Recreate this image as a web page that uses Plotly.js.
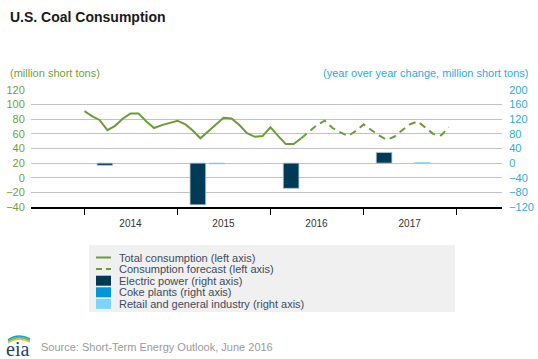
<!DOCTYPE html>
<html>
<head>
<meta charset="utf-8">
<script src="https://cdn.plot.ly/plotly-3.0.1.min.js"></script>
<style>html,body{margin:0;padding:0;background:#fff;}#chart{width:538px;height:359px;}</style>
</head>
<body>
<div id="chart"></div>
<script>
// ---- data ----
var histMonths = ['2014-01-01','2014-02-01','2014-03-01','2014-04-01','2014-05-01','2014-06-01','2014-07-01','2014-08-01','2014-09-01','2014-10-01','2014-11-01','2014-12-01',
                  '2015-01-01','2015-02-01','2015-03-01','2015-04-01','2015-05-01','2015-06-01','2015-07-01','2015-08-01','2015-09-01','2015-10-01','2015-11-01','2015-12-01',
                  '2016-01-01','2016-02-01','2016-03-01','2016-04-01','2016-05-01'];
var histValues = [91, 84, 79, 65, 71, 81, 88, 88, 77, 68, 72, 75,
                  78, 73, 65, 54, 63, 73, 82, 81, 72, 61, 56, 57,
                  69, 57, 46, 46, 54];
var fcstMonths = ['2016-05-01','2016-06-01','2016-07-01','2016-08-01','2016-09-01','2016-10-01','2016-11-01','2016-12-01',
                  '2017-01-01','2017-02-01','2017-03-01','2017-04-01','2017-05-01','2017-06-01','2017-07-01','2017-08-01','2017-09-01','2017-10-01','2017-11-01','2017-12-01'];
var fcstValues = [54, 63, 72, 78, 68, 62, 57, 64,
                  73, 65, 58, 52, 56, 65, 73, 77, 68, 60, 58, 69];
var barYears = ['2014','2015','2016','2017'];
var electricPower = [-6, -114, -69, 29];
var cokePlants = [0, -2, 0, 0];
var retailIndustry = [0, 0, 0, 1];
var yearTicks = ['2014-01-01','2015-01-01','2016-01-01','2017-01-01','2018-01-01'];
var yearLabels = ['2014','2015','2016','2017',''];
var legendNames = ['Total consumption (left axis)','Consumption forecast (left axis)','Electric power (right axis)','Coke plants (right axis)','Retail and general industry (right axis)'];

// ---- style ----
var GREEN = '#6a9d35', NAVY = '#003a56', COKE = '#0096d8', RETAIL = '#7dd3fb';
var LEFTC = '#6f9f3c', RIGHTC = '#2eaae1';
var FONT = 'Liberation Sans, Arial, sans-serif';
var barX = barYears.map(function(y){ return y + '-06-05'; });
function outline(vals, col){ return {color:col, width: vals.map(function(v){ return v === 0 ? 0 : 0.8; })}; }

var traces = [
  {type:'bar', x:barX, y:electricPower, yaxis:'y2', name:legendNames[2], marker:{color:NAVY, line:outline(electricPower,'#b4c6d2')}, showlegend:false},
  {type:'bar', x:barX, y:cokePlants, yaxis:'y2', name:legendNames[3], marker:{color:COKE, line:outline(cokePlants,'#9fd3ee')}, showlegend:false},
  {type:'bar', x:barX, y:retailIndustry, yaxis:'y2', name:legendNames[4], marker:{color:RETAIL, line:outline(retailIndustry,RETAIL)}, showlegend:false},
  {type:'scatter', mode:'lines', x:histMonths, y:histValues, name:legendNames[0], line:{color:GREEN, width:2}, showlegend:false},
  {type:'scatter', mode:'lines', x:fcstMonths, y:fcstValues, name:legendNames[1], line:{color:GREEN, width:2, dash:'7px,5px'}, showlegend:false}
];

// plot area in px
var L = 31, R = 502, T = 90, B = 207;
function px(x){ return (x - L) / (R - L); }
function py(y){ return (B - y) / (B - T); }

var shapes = [];
var annotations = [];

// legend box
shapes.push({type:'rect', xref:'paper', yref:'paper', x0:px(89), x1:px(455), y0:py(245), y1:py(312), fillcolor:'#f0f0f0', line:{width:0}, layer:'below'});
var swatchStyles = [
  {kind:'line', color:GREEN, dash:'solid'},
  {kind:'line', color:GREEN, dash:'6px,4px'},
  {kind:'box', color:NAVY},
  {kind:'box', color:COKE},
  {kind:'box', color:RETAIL}
];
legendNames.forEach(function(name, i){
  var yc = 257.5 + i * 11.6;
  var s = swatchStyles[i];
  if (s.kind === 'line') {
    shapes.push({type:'line', xref:'paper', yref:'paper', x0:px(96), x1:px(111), y0:py(yc), y1:py(yc), line:{color:s.color, width:2, dash:s.dash}});
  } else {
    shapes.push({type:'rect', xref:'paper', yref:'paper', x0:px(96), x1:px(111), y0:py(yc - 5), y1:py(yc + 5), fillcolor:s.color, line:{width:0}});
  }
  annotations.push({xref:'paper', yref:'paper', x:px(117), y:py(yc), xanchor:'left', yanchor:'middle', showarrow:false, text:name, font:{family:FONT, size:11, color:'#3d4b5c'}});
});

// axis unit labels
annotations.push({xref:'paper', yref:'paper', x:px(8), y:py(73), xanchor:'left', yanchor:'middle', showarrow:false, text:'(million short tons)', font:{family:FONT, size:11, color:LEFTC}});
annotations.push({xref:'paper', yref:'paper', x:px(530), y:py(73), xanchor:'right', yanchor:'middle', showarrow:false, text:'(year over year change, million short tons)', font:{family:FONT, size:11, color:RIGHTC}});
// source
annotations.push({xref:'paper', yref:'paper', x:px(39), y:py(347), xanchor:'left', yanchor:'middle', showarrow:false, text:'Source: Short-Term Energy Outlook, June 2016', font:{family:FONT, size:11, color:'#9a9a9a'}});
// eia logo
annotations.push({xref:'paper', yref:'paper', x:px(5), y:py(349), xanchor:'left', yanchor:'middle', showarrow:false, borderpad:0, text:'eia', font:{family:'Liberation Serif, DejaVu Serif, serif', size:20, color:'#1d3f6e'}});
var arcColors = ['#f2c12e','#7ab648','#1e9bd7'];
arcColors.forEach(function(c, i){
  var y0 = 343 - i * 1.6;
  shapes.push({type:'path', xref:'paper', yref:'paper',
    path:'M ' + px(8) + ' ' + py(y0) + ' Q ' + px(18) + ' ' + py(y0 - 7) + ' ' + px(30) + ' ' + py(y0 - 1),
    line:{color:c, width:1.5}});
});

var layout = {
  width:538, height:359,
  margin:{l:L, r:538 - R, t:T, b:359 - B},
  paper_bgcolor:'#fff', plot_bgcolor:'#fff',
  font:{family:FONT, size:11, color:'#333'},
  title:{text:'<b>U.S. Coal Consumption</b>', x:10/538, xanchor:'left', xref:'container', y:1 - 17/359, yanchor:'middle', yref:'container', font:{family:FONT, size:14, color:'#1a1a1a'}},
  showlegend:false,
  barmode:'group', bargap:0.384, bargroupgap:0.18,
  xaxis:{type:'date', range:['2013-06-05','2018-06-28'], tickmode:'array', tickvals:yearTicks, ticktext:yearLabels, ticklabelshift:46,
         ticks:'outside', ticklen:6, tickcolor:'#000', tickwidth:1, showgrid:false, zeroline:false,
         showline:true, linecolor:'#000', linewidth:1.5, tickfont:{family:FONT, size:10, color:'#333'}, fixedrange:true},
  yaxis:{range:[-40,120], dtick:20, tick0:0, showgrid:true, gridcolor:'#c2c2c2', gridwidth:1, zeroline:false,
         ticks:'outside', ticklen:3, tickcolor:'rgba(0,0,0,0)', tickfont:{family:FONT, size:11, color:LEFTC}, fixedrange:true},
  yaxis2:{range:[-120,200], dtick:40, tick0:0, overlaying:'y', side:'right', showgrid:false, zeroline:false,
         ticks:'outside', ticklen:4, tickcolor:'rgba(0,0,0,0)', tickfont:{family:FONT, size:11, color:RIGHTC}, fixedrange:true},
  shapes:shapes,
  annotations:annotations
};

Plotly.newPlot('chart', traces, layout, {staticPlot:true, displayModeBar:false});
</script>
</body>
</html>
